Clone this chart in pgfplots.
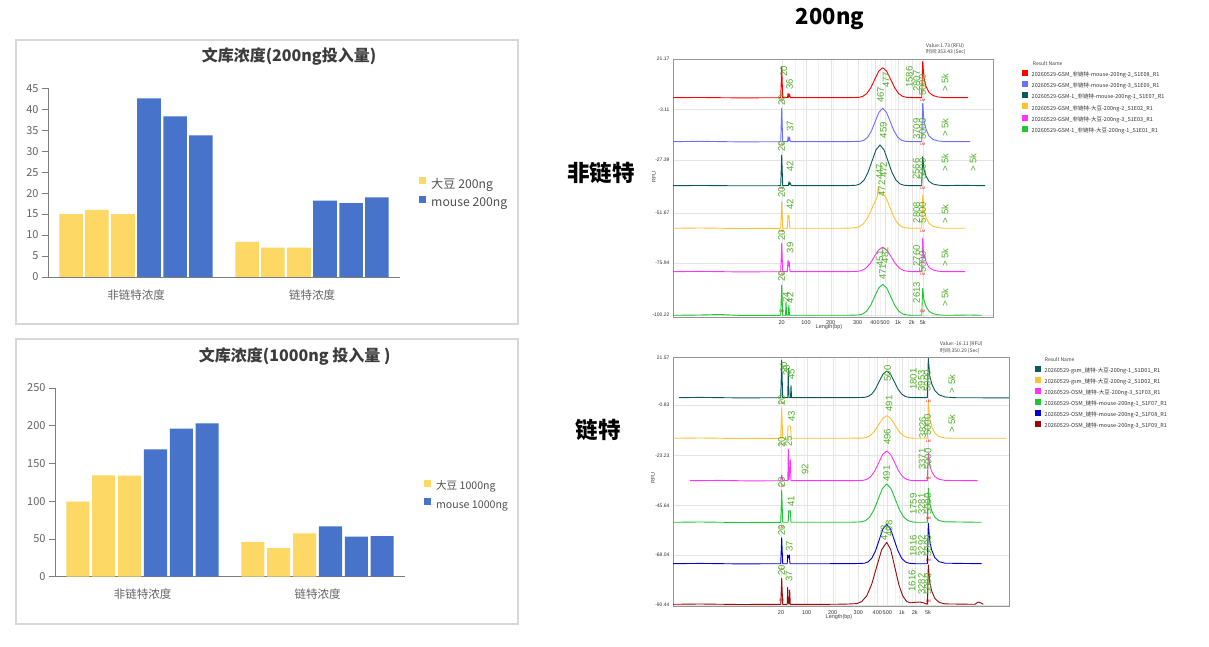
\documentclass[border=0pt]{standalone}
\usepackage{pgfplots}
\pgfplotsset{compat=1.18}
\usepackage{fontspec}
\setmainfont{Noto Sans CJK SC}
\newfontfamily\arial{Liberation Sans}
\definecolor{barY}{RGB}{254,216,100}
\definecolor{barB}{RGB}{72,115,203}
\definecolor{axgray}{RGB}{125,125,125}
\definecolor{ticktext}{RGB}{100,100,105}
\definecolor{titletext}{RGB}{60,60,60}
\definecolor{legtext}{RGB}{80,80,80}
\definecolor{panelframe}{RGB}{215,215,215}
\definecolor{epframe}{RGB}{150,150,150}
\definecolor{epgrid}{RGB}{228,228,228}
\definecolor{epminor}{RGB}{242,242,242}
\definecolor{cRed}{RGB}{255,0,0}
\definecolor{cViolet}{RGB}{110,110,255}
\definecolor{cTeal}{RGB}{10,90,90}
\definecolor{cOrange}{RGB}{255,192,50}
\definecolor{cMag}{RGB}{255,50,255}
\definecolor{cGreen}{RGB}{30,200,50}
\definecolor{cBlue}{RGB}{0,0,210}
\definecolor{cDRed}{RGB}{150,10,10}
\definecolor{labgreen}{RGB}{80,175,40}
\pgfplotsset{
  bc/.style={
    scale only axis, height=188.7pt,
    xmin=-0.5, xmax=1.5, ymin=0,
    axis x line=bottom, axis y line=left,
    axis line style={-, draw=axgray, line width=0.9pt},
    xtick={0,1}, xticklabels={非链特浓度,链特浓度},
    xtick style={draw=none},
    ytick style={draw=axgray, line width=0.8pt},
    tick align=outside, major tick length=6pt,
    yticklabel style={font=\fontsize{11}{12}\selectfont, text=ticktext},
    xticklabel style={font=\fontsize{11.5}{12}\selectfont, text=ticktext, yshift=-3pt},
    /pgf/number format/assume math mode=true,
    legend style={draw=none, fill=none, inner sep=0pt, row sep=5.5pt,
      font=\fontsize{12.2}{12.5}\selectfont, text=legtext, anchor=north west,
      nodes={inner sep=1pt}},
    legend cell align=left,
  },
  ep/.style={
    scale only axis, y dir=reverse, clip=false,
    axis line style={draw=epframe, line width=0.7pt},
    major tick length=0pt, tick style={draw=none},
    xmajorgrids, ymajorgrids, xminorgrids,
    major grid style={draw=epgrid, line width=0.4pt},
    minor grid style={draw=epminor, line width=0.3pt},
    xticklabel style={font=\arial\fontsize{5.5}{6}\selectfont, text=black!80},
    yticklabel style={font=\arial\fontsize{5}{6}\selectfont, text=black!80},
    xticklabels={20,100,200,300,400,500,1k,2k,5k},
    every axis plot/.append style={line width=0.9pt, line join=round, mark=none},
    legend style={draw=none, fill=none, inner sep=0pt, row sep=2.7pt,
      font=\fontsize{5.5}{5.5}\selectfont, text=black!80, anchor=north west,
      nodes={inner sep=0.5pt}},
    legend cell align=left,
    legend image code/.code={\fill[#1, draw=none] (0pt,-1pt) rectangle (6pt,5pt); \path[draw=none, fill=none] (0pt,0pt) -- (9pt,0pt);},
  },
}
\tikzset{
  lab/.style={rotate=90, anchor=west, inner sep=0pt, font=\arial\fontsize{9.5}{9.5}\selectfont, text=labgreen},
  lm/.style={inner sep=0pt, font=\arial\fontsize{3.5}{4}\selectfont, text=red},
}
\begin{document}
\begin{tikzpicture}
\path[use as bounding box, fill=white] (0pt,0pt) rectangle (1209pt,647pt);
% ---------- panels ----------
\draw[panelframe, line width=1.2pt] (16pt,607pt) rectangle (518pt,323pt);
\draw[panelframe, line width=1.2pt] (16pt,308pt) rectangle (518pt,23pt);
\node[font=\bfseries\fontsize{16}{16}\selectfont, text=titletext] at (289pt,591pt) {文库浓度(200ng投入量)};
\node[font=\bfseries\fontsize{16}{16}\selectfont, text=titletext] at (294.7pt,291pt) {文库浓度(1000ng 投入量 )};

% ---------- bar chart 200ng ----------
\begin{axis}[bc, width=352pt, at={(48pt,370pt)}, anchor=south west,
  ymax=45, ytick={0,5,...,45}, legend style={at={(1.054,0.531)}}]
\addplot[ybar, bar shift=0pt, bar width=0.134, fill=barY, draw=none,
  legend image code/.code={\fill[barY] (0pt,-0.5pt) rectangle (7pt,6.5pt); \path (0pt,0pt) -- (11pt,0pt);}]
  coordinates {(-0.369,15.0) (0.631,8.35)};
\addlegendentry{大豆 200ng}
\addplot[ybar, bar shift=0pt, bar width=0.134, fill=barY, draw=none, forget plot]
  coordinates {(-0.222,16.0) (0.778,7.0)};
\addplot[ybar, bar shift=0pt, bar width=0.134, fill=barY, draw=none, forget plot]
  coordinates {(-0.074,15.0) (0.926,7.0)};
\addplot[ybar, bar shift=0pt, bar width=0.134, fill=barB, draw=none,
  legend image code/.code={\fill[barB] (0pt,-0.5pt) rectangle (7pt,6.5pt); \path (0pt,0pt) -- (11pt,0pt);}]
  coordinates {(0.074,42.6) (1.074,18.2)};
\addlegendentry{mouse 200ng}
\addplot[ybar, bar shift=0pt, bar width=0.134, fill=barB, draw=none, forget plot]
  coordinates {(0.222,38.3) (1.222,17.6)};
\addplot[ybar, bar shift=0pt, bar width=0.134, fill=barB, draw=none, forget plot]
  coordinates {(0.369,33.8) (1.369,19.0)};
\end{axis}

% ---------- bar chart 1000ng ----------
\begin{axis}[bc, width=350pt, at={(55pt,70.3pt)}, anchor=south west,
  ymax=250, ytick={0,50,...,250}, legend style={at={(1.054,0.515)}, row sep=6pt, font=\fontsize{10.6}{11}\selectfont}]
\addplot[ybar, bar shift=0pt, bar width=0.132, fill=barY, draw=none,
  legend image code/.code={\fill[barY] (0pt,-0.5pt) rectangle (7pt,6.5pt); \path (0pt,0pt) -- (11pt,0pt);}]
  coordinates {(-0.369,99.5) (0.631,45.9)};
\addlegendentry{大豆 1000ng}
\addplot[ybar, bar shift=0pt, bar width=0.132, fill=barY, draw=none, forget plot]
  coordinates {(-0.222,134.3) (0.778,38.0)};
\addplot[ybar, bar shift=0pt, bar width=0.132, fill=barY, draw=none, forget plot]
  coordinates {(-0.074,133.8) (0.926,57.4)};
\addplot[ybar, bar shift=0pt, bar width=0.132, fill=barB, draw=none,
  legend image code/.code={\fill[barB] (0pt,-0.5pt) rectangle (7pt,6.5pt); \path (0pt,0pt) -- (11pt,0pt);}]
  coordinates {(0.074,168.7) (1.074,66.7)};
\addlegendentry{mouse 1000ng}
\addplot[ybar, bar shift=0pt, bar width=0.132, fill=barB, draw=none, forget plot]
  coordinates {(0.222,196.1) (1.222,53.0)};
\addplot[ybar, bar shift=0pt, bar width=0.132, fill=barB, draw=none, forget plot]
  coordinates {(0.369,203.2) (1.369,53.9)};
\end{axis}

% ---------- right side headings ----------
\node[font=\bfseries\fontsize{22}{22}\selectfont] at (830pt,628pt) {200ng};
\node[font=\bfseries\fontsize{22.5}{22.5}\selectfont] at (601pt,474pt) {非链特};
\node[font=\bfseries\fontsize{22.5}{22.5}\selectfont] at (598pt,217pt) {链特};

% ---------- electropherogram: non-linked (top) ----------
\begin{axis}[ep, width=320pt, height=258pt, at={(673pt,330pt)}, anchor=south west,
  xmin=673, xmax=993, ymin=59, ymax=317,
  xtick={781.7,806,830.7,857.7,875,885,898,911.7,922.7},
  minor xtick={795,803,818,833,847,867,871,880,891,895,904,908,916,919},
  ytick={59,109.3,160,213,263,315},
  yticklabels={21.17,-3.11,-27.39,-51.67,-75.94,-100.22},
  legend style={at={(1.0906,0.9593)}}]
\addplot[cRed] coordinates {(673,97.7) (700,97.5) (740,97.9) (780.7,97.7) (781.7,66.7) (782.7,97.7) (787.5,97.7) (788,93.5) (788.7,97.5) (789.5,94) (790.3,97.7) (830,97.7) (850,97.6) (858.7,97.37) (862.7,96.38) (866.7,93.64) (870.7,87.96) (874.7,79.5) (878.7,71.22) (882.7,67.7) (886.7,71.22) (890.7,79.5) (894.7,87.96) (898.7,93.64) (902.7,96.38) (906.7,97.37) (912,97.7) (921.7,97.7) (922.7,61.5) (924,78.4) (926,86.5) (929,92.5) (933,95.5) (938,97.0) (945,97.7) (968,97.7)};
\addlegendentry{20260529-GSM\_非链特-mouse-200ng-2\_S1E08\_R1}
\addplot[cViolet] coordinates {(673,141.7) (700,141.3) (740,141.9) (780.7,141.7) (781.7,108.5) (782.7,141.7) (787.5,141.7) (788,136.7) (788.7,141.2) (789.5,137) (790.3,141.7) (830,141.7) (850,141.6) (860.2,141.33) (863.95,140.23) (867.7,137.18) (871.45,130.86) (875.2,121.44) (878.95,112.22) (882.7,108.3) (886.45,112.22) (890.2,121.44) (893.95,130.86) (897.7,137.18) (901.45,140.23) (905.2,141.33) (912,141.7) (921.7,141.7) (922.7,103.3) (924,120.7) (926,129.2) (929,136.0) (933,139.4) (938,141.0) (945,141.7) (970,141.7)};
\addlegendentry{20260529-GSM\_非链特-mouse-200ng-3\_S1E09\_R1}
\addplot[cTeal] coordinates {(673,185.7) (700,185.5) (740,185.8) (780.7,185.7) (781.7,155) (782.7,185.7) (788.3,185.7) (789,181.7) (789.7,184.5) (790.5,183) (791.2,185.7) (830,185.7) (848,185.6) (856,185.25) (860,183.91) (864,180.19) (868,172.48) (872,161.02) (876,149.78) (880,145) (884,149.78) (888,161.02) (892,172.48) (896,180.19) (900,183.91) (904,185.25) (910,185.7) (921.7,185.7) (922.7,156.7) (924,169.7) (926,176.1) (929,181.3) (933,184) (938,185.1) (945,185.7) (960,185.3) (985,185.7)};
\addlegendentry{20260529-GSM-1\_非链特-mouse-200ng-1\_S1E07\_R1}
\addplot[cOrange] coordinates {(673,228.3) (700,228) (740,228.5) (780.7,228.3) (781.7,201.7) (782.7,228.3) (787.3,228.3) (788,215) (789,215.5) (789.8,228.3) (830,228.3) (845,228.2) (854.7,227.9) (859.2,226.74) (863.7,223.48) (868.2,216.74) (872.7,206.71) (877.2,196.88) (878.3,186.7) (879.3,194.5) (881.7,192.7) (885.7,196.88) (889.7,206.71) (893.7,216.74) (897.7,223.48) (901.7,226.74) (905.7,227.9) (912,228.3) (921.7,228.3) (922.7,195) (924,210) (926,217.3) (929,223.3) (933,226.3) (938,227.6) (945,228.3) (965,228.3)};
\addlegendentry{20260529-GSM\_非链特-大豆-200ng-2\_S1E02\_R1}
\addplot[cMag] coordinates {(673,271.7) (700,271.4) (740,271.9) (780.7,271.7) (781.7,243.3) (782.7,271.7) (787.3,271.7) (788,260) (788.7,266) (789.3,262) (790,271.7) (830,271.7) (848,271.6) (857.2,271.43) (861.45,270.63) (865.7,268.4) (869.95,263.78) (874.2,256.9) (878.45,250.17) (880.5,248.5) (882.7,247.3) (884.7,249) (886.95,250.17) (891.2,256.9) (895.45,263.78) (899.7,268.4) (903.95,270.63) (908.2,271.43) (914,271.7) (921.7,271.7) (922.7,238.3) (923.7,258) (924.7,255) (926,262) (929,267.5) (933,270) (938,271.2) (945,271.7) (965,271.7)};
\addlegendentry{20260529-GSM\_非链特-大豆-200ng-3\_S1E03\_R1}
\addplot[cGreen] coordinates {(673,315.3) (700,315) (720,314.5) (740,315.4) (780.7,315.3) (781.7,285) (782.7,315.3) (785.5,315.3) (786,301.7) (786.7,315) (788.3,315.3) (788.8,305) (789.5,315.3) (830,315.3) (850,315.2) (858.7,314.96) (862.7,313.94) (866.7,311.11) (870.7,305.23) (874.7,296.5) (878.7,287.94) (882.7,284.3) (886.7,287.94) (890.7,296.5) (894.7,305.23) (898.7,311.11) (902.7,313.94) (906.7,314.96) (912,315.3) (921.7,315.3) (922.7,288.3) (924,300.4) (926,306.4) (929,311.3) (933,313.7) (938,314.8) (945,315.3) (970,315) (981.7,315.3)};
\addlegendentry{20260529-GSM-1\_非链特-大豆-200ng-1\_S1E01\_R1}
% 20 bp markers
\node[lm] at (781.7,100.5) {LM}; \node[lab] at (783.8,77) {20};
\node[lm] at (781.7,144.5) {LM}; \node[lab] at (781.7,106) {20};
\node[lm] at (781.7,188.5) {LM}; \node[lab] at (781.7,152) {20};
\node[lm] at (781.7,231) {LM}; \node[lab] at (781.7,198) {20};
\node[lm] at (781.7,274.5) {LM}; \node[lab] at (781.7,240.5) {20};
\node[lm] at (781.7,311) {LM}; \node[lab] at (781.7,282) {20};
% 5k markers
\node[lm] at (922.7,100.5) {LM}; \node[lm] at (922.7,144.5) {LM}; \node[lm] at (922.7,188.5) {LM};
\node[lm] at (922.7,231) {LM}; \node[lm] at (922.7,274.5) {LM}; \node[lm] at (922.7,311) {LM};
% peak labels
\node[lab] at (789.5,90) {36}; \node[lab] at (880.7,103) {467}; \node[lab] at (886.2,88) {477};
\node[lab] at (909.3,88) {1586}; \node[lab] at (916.7,92) {2807}; \node[lab] at (922.7,96) {5000}; \node[lab] at (945,92) {> 5k};
\node[lab] at (790,131.7) {37}; \node[lab] at (883.3,138.3) {459}; \node[lab] at (916.7,140) {3709}; \node[lab] at (922.7,140) {5000}; \node[lab] at (945,136.7) {> 5k};
\node[lab] at (790,171.7) {42}; \node[lab] at (879.5,180) {447}; \node[lab] at (883.5,178) {472}; \node[lab] at (916,180) {2566}; \node[lab] at (922.7,180) {5000}; \node[lab] at (945,171.7) {> 5k}; \node[lab] at (973,171.7) {> 5k};
\node[lab] at (790,210) {42}; \node[lab] at (881.7,196.7) {472}; \node[lab] at (916.7,223.3) {2808}; \node[lab] at (922.7,223.3) {5000}; \node[lab] at (945,223.3) {> 5k};
\node[lab] at (790,253.3) {39}; \node[lab] at (880,266.7) {451}; \node[lab] at (885,263.3) {482}; \node[lab] at (916.7,266.7) {2760}; \node[lab] at (922.7,273) {5000}; \node[lab] at (945,266.7) {> 5k};
\node[lab] at (786,303) {24}; \node[lab] at (790,303.3) {42}; \node[lab] at (882.7,280) {471}; \node[lab] at (916.7,303.3) {2613}; \node[lab] at (945,306.7) {> 5k};
\end{axis}

% ---------- electropherogram: linked (bottom) ----------
\begin{axis}[ep, width=336pt, height=249pt, at={(673pt,40.3pt)}, anchor=south west,
  xmin=673, xmax=1009, ymin=357.7, ymax=606.7,
  xtick={781,806.7,832.7,858.3,877.3,887.3,901.7,914.7,928},
  minor xtick={796,804,820,835,849,869,874,883,895,899,908,912,920,924},
  ytick={357.7,405,455.7,505.7,555,605},
  yticklabels={21.57,-0.83,-23.23,-45.64,-68.04,-90.44},
  legend style={at={(1.0774,0.9687)}, row sep=2.5pt}]
\addplot[cTeal] coordinates {(679,397.7) (700,397.4) (740,397.9) (780.7,397.7) (781.7,360) (782.7,397.7) (787.7,397.7) (788.3,368.3) (789,397.7) (790.5,397.7) (791,385.7) (791.6,397.7) (830,397.7) (855,397.6) (864.2,397.4) (867.95,396.53) (871.7,394.09) (875.45,389.03) (879.2,381.51) (882.95,374.14) (886.7,371) (890.45,374.14) (894.2,381.51) (897.95,389.03) (901.7,394.09) (905.45,396.53) (909.2,397.4) (916,397.7) (927.3,397.7) (928.3,358.5) (929.8,376) (931.8,384) (934.8,390.5) (939,394.8) (945,397) (955,397.7) (1009,397.9)};
\addlegendentry{20260529-gsm\_链特-大豆-200ng-1\_S1D01\_R1}
\addplot[cOrange] coordinates {(673,438.3) (700,438) (740,438.5) (780.7,438.3) (781.7,408.3) (782.7,438.3) (787.5,438.3) (788,426) (789,426) (790.5,426) (791.3,438.3) (830,438.3) (852,438.2) (862.7,438.05) (866.7,437.31) (870.7,435.24) (874.7,430.96) (878.7,424.59) (882.7,418.36) (886.7,415.7) (890.7,418.36) (894.7,424.59) (898.7,430.96) (902.7,435.24) (906.7,437.31) (910.7,438.05) (916,438.3) (927.3,438.3) (928.3,401.7) (929.8,418.6) (931.8,426.9) (934.8,433.0) (939,436.6) (945,438.0) (955,438.3) (1006.7,438.3)};
\addlegendentry{20260529-gsm\_链特-大豆-200ng-2\_S1D02\_R1}
\addplot[cMag] coordinates {(690,480.7) (720,480.4) (750,480.9) (780.7,480.7) (781.7,475) (782.7,480.7) (787.8,480.7) (788.3,449.3) (789,480) (789.8,470) (790.3,460) (791,480.7) (830,480.7) (852,480.6) (862.7,480.37) (866.7,479.4) (870.7,476.68) (874.7,471.06) (878.7,462.69) (882.7,454.49) (886.7,451) (890.7,454.49) (894.7,462.69) (898.7,471.06) (902.7,476.68) (906.7,479.4) (910.7,480.37) (916,480.7) (927.3,480.7) (928.3,453.3) (929.8,465.6) (931.8,471.7) (934.8,476.6) (939,479.3) (945,480.4) (977.7,480.7)};
\addlegendentry{20260529-OSM\_链特-大豆-200ng-3\_S1F03\_R1}
\addplot[cGreen] coordinates {(673,522.3) (700,522) (740,522.5) (780.7,522.3) (781.7,490) (782.7,522.3) (788.2,522.3) (788.7,510.7) (789.5,511) (790.3,510.7) (791,522.3) (830,522.3) (852,522.2) (861.2,521.87) (865.45,520.62) (869.7,517.12) (873.95,509.86) (878.2,499.07) (882.45,488.5) (886.7,484) (890.95,488.5) (895.2,499.07) (899.45,509.86) (903.7,517.12) (907.95,520.62) (912.2,521.87) (917,522.3) (927.3,522.3) (928.3,488.3) (929.8,503.6) (931.8,511.1) (934.8,517.2) (939,520.6) (945,521.8) (981.7,522.3)};
\addlegendentry{20260529-OSM\_链特-mouse-200ng-1\_S1F07\_R1}
\addplot[cBlue] coordinates {(673,563.7) (700,563.4) (740,563.9) (780.7,563.7) (781.7,537.7) (782.7,563.7) (787.2,563.7) (787.7,555) (788.5,558) (789.3,555) (790,563.7) (830,563.7) (855,563.6) (864.2,563.26) (867.95,561.97) (871.7,558.37) (875.45,550.91) (879.2,539.8) (882.95,528.93) (886.7,524.3) (890.45,528.93) (894.2,539.8) (897.95,550.91) (901.7,558.37) (905.45,561.97) (909.2,563.26) (915,563.7) (927.3,563.7) (928.3,523.3) (929.8,541.5) (931.8,550.4) (934.8,557.6) (939,561.7) (945,563.2) (981.7,563.7)};
\addlegendentry{20260529-OSM\_链特-mouse-200ng-2\_S1F08\_R1}
\addplot[cDRed] coordinates {(673,604.3) (700,604) (740,604.5) (780.7,604.3) (781.7,578.3) (782.7,604.3) (787.2,604.3) (787.7,587.3) (788.3,603) (789.2,604) (789.7,590) (790.3,604.3) (830,604.3) (846,604.1) (856.7,603.61) (861.7,601.58) (866.7,595.91) (871.7,584.17) (876.7,566.7) (881.7,549.58) (886.7,542.3) (890.7,549.58) (894.7,566.7) (898.7,584.17) (902.7,595.91) (906.7,601.58) (910.7,602.8) (915,602.3) (920,602) (924,603) (927.3,604.3) (928.3,565) (929.8,582.7) (931.8,591.3) (934.8,598.4) (939,602.3) (945,603.9) (975,604.3) (978,602) (981,603) (983.3,604.3)};
\addlegendentry{20260529-OSM\_链特-mouse-200ng-3\_S1F09\_R1}
% 20 bp markers
\node[lm] at (781.7,403.5) {LM}; \node[lab] at (783.8,373) {20};
\node[lm] at (781.7,444) {LM}; \node[lab] at (781.7,406) {20};
\node[lm] at (781.7,486) {LM}; \node[lab] at (781.7,448) {20};
\node[lm] at (781.7,527.5) {LM}; \node[lab] at (781.7,488) {20};
\node[lm] at (781.7,569) {LM}; \node[lab] at (781.7,535.5) {20};
\node[lm] at (781.7,600) {LM}; \node[lab] at (781.7,576) {20};
% 5k markers
\node[lm] at (928.3,401) {LM}; \node[lm] at (928.3,441.5) {LM}; \node[lm] at (928.3,478) {LM};
\node[lm] at (928.3,518) {LM}; \node[lm] at (928.3,560) {LM}; \node[lm] at (928.3,601) {LM};
% peak labels
\node[lab] at (786.5,376) {28}; \node[lab] at (791.5,380) {45}; \node[lab] at (887.7,381.7) {500}; \node[lab] at (913.3,390) {1801}; \node[lab] at (921.3,391.7) {3953}; \node[lab] at (927.3,391.7) {5000}; \node[lab] at (951.7,393.3) {> 5k};
\node[lab] at (791.7,421.7) {43}; \node[lab] at (889,411.7) {491}; \node[lab] at (922.7,438.3) {3826}; \node[lab] at (927.7,436) {5000}; \node[lab] at (951.7,433) {> 5k};
\node[lab] at (788.5,447) {25}; \node[lab] at (805,475) {92}; \node[lab] at (887.3,445) {496}; \node[lab] at (922,470) {3371}; \node[lab] at (928,470) {5000};
\node[lab] at (791,506.7) {41}; \node[lab] at (886.7,481.7) {491}; \node[lab] at (913.3,515) {1759}; \node[lab] at (921.7,515) {3281}; \node[lab] at (928,515) {5000};
\node[lab] at (789.3,551.7) {37}; \node[lab] at (884,541) {473}; \node[lab] at (889,536.7) {498}; \node[lab] at (913.3,556.7) {1816}; \node[lab] at (921.7,556.7) {3292}; \node[lab] at (928,556.7) {5000};
\node[lab] at (789,582) {37}; \node[lab] at (912,591.7) {1616}; \node[lab] at (921.7,595) {3282}; \node[lab] at (928,595) {5000};
\end{axis}

% ---------- small texts of the electropherograms ----------
\node[font=\arial\fontsize{5.5}{6}\selectfont, text=black!75] at (829pt,320.3pt) {Length(bp)};
\node[font=\arial\fontsize{5.5}{6}\selectfont, text=black!75] at (839pt,30.3pt) {Length(bp)};
\node[font=\arial\fontsize{5.5}{6}\selectfont, text=black!75, rotate=90] at (654pt,470.3pt) {RFU};
\node[font=\arial\fontsize{5.5}{6}\selectfont, text=black!75, rotate=90] at (653pt,169pt) {RFU};
\node[anchor=west, inner sep=0pt, font=\fontsize{5}{5.5}\selectfont, text=black!75] at (926pt,601.3pt) {Value:1.73 (RFU)};
\node[anchor=west, inner sep=0pt, font=\fontsize{5}{5.5}\selectfont, text=black!75] at (926pt,594.7pt) {时间:353.43 (Sec)};
\node[anchor=west, inner sep=0pt, font=\fontsize{5}{5.5}\selectfont, text=black!75] at (940pt,302.7pt) {Value:-16.11 (RFU)};
\node[anchor=west, inner sep=0pt, font=\fontsize{5}{5.5}\selectfont, text=black!75] at (940pt,296.5pt) {时间:350.29 (Sec)};
\node[anchor=west, inner sep=0pt, font=\fontsize{5}{5.5}\selectfont, text=black!75] at (1032.7pt,583.7pt) {Result Name};
\node[anchor=west, inner sep=0pt, font=\fontsize{5}{5.5}\selectfont, text=black!75] at (1044.7pt,287pt) {Result Name};
\end{tikzpicture}
\end{document}
